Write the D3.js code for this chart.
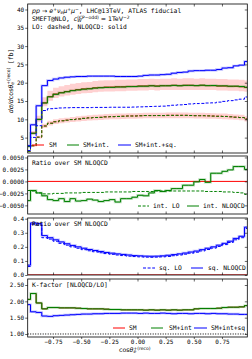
<!DOCTYPE html>
<html>
<head>
<meta charset="utf-8">
<script src="https://cdn.jsdelivr.net/npm/d3@7"></script>
<style>
  body { margin: 0; background: #fff; }
  text { font-family: "DejaVu Sans Mono", monospace; font-size: 6.3px; fill: #000; }
  .m { font-family: "DejaVu Sans", sans-serif; }
</style>
</head>
<body>
<svg id="chart" width="252" height="359"></svg>
<script>
// bin centres of cos(theta_e+) (bin width 0.05)
var binCenters = [-0.975, -0.925, -0.875, -0.825, -0.775, -0.725, -0.675, -0.625, -0.575, -0.525,
  -0.475, -0.425, -0.375, -0.325, -0.275, -0.225, -0.175, -0.125, -0.075, -0.025,
  0.025, 0.075, 0.125, 0.175, 0.225, 0.275, 0.325, 0.375, 0.425, 0.475,
  0.525, 0.575, 0.625, 0.675, 0.725, 0.775, 0.825, 0.875, 0.925, 0.975];

// main panel, dsigma/dcos [fb]
var smLO = [1.26, 2.77, 5.13, 8.19, 8.95, 9.34, 9.61, 9.78, 9.94, 10.11, 10.28, 10.40, 10.51, 10.56, 10.68, 10.74, 10.80, 10.86, 10.92, 10.92,
  10.98, 11.04, 11.03, 11.04, 11.03, 11.10, 11.10, 11.10, 11.10, 11.05, 11.00, 11.00, 10.95, 10.90, 10.85, 10.80, 10.70, 10.60, 10.50, 10.10];
var smNLO = [2.6, 6.2, 10.0, 14.5, 16.2, 16.9, 17.3, 17.6, 17.9, 18.1, 18.3, 18.4, 18.6, 18.7, 18.8, 18.8, 18.9, 18.9, 19.0, 19.0,
  19.1, 19.1, 19.2, 19.1, 19.2, 19.2, 19.3, 19.2, 19.3, 19.3, 19.2, 19.3, 19.2, 19.2, 19.1, 19.1, 19.0, 19.0, 18.9, 18.7];
var smIntLO = [1.26, 2.76, 5.12, 8.17, 8.93, 9.32, 9.59, 9.76, 9.92, 10.09, 10.26, 10.38, 10.49, 10.54, 10.66, 10.72, 10.78, 10.84, 10.90, 10.90,
  10.96, 11.02, 11.01, 11.02, 11.01, 11.08, 11.08, 11.08, 11.08, 11.03, 10.98, 10.98, 10.93, 10.88, 10.83, 10.78, 10.68, 10.58, 10.47, 10.07];
var smIntNLO = [2.59, 6.19, 9.98, 14.46, 16.14, 16.83, 17.24, 17.53, 17.83, 18.03, 18.23, 18.33, 18.53, 18.62, 18.72, 18.73, 18.82, 18.83, 18.93, 18.94,
  19.05, 19.05, 19.15, 19.06, 19.16, 19.16, 19.27, 19.17, 19.28, 19.28, 19.2, 19.31, 19.2, 19.23, 19.13, 19.14, 19.05, 19.06, 18.96, 18.75];
var fullLO = [1.47, 5.06, 8.25, 12.4, 12.9, 13.0, 13.1, 13.15, 13.2, 13.2, 13.2, 13.2, 13.25, 13.25, 13.25, 13.3, 13.3, 13.3, 13.3, 13.35,
  13.4, 13.45, 13.5, 13.55, 13.6, 13.7, 13.85, 13.95, 14.05, 14.2, 14.3, 14.35, 14.45, 14.5, 14.7, 14.9, 15.1, 15.3, 15.5, 16.1];
var fullNLO = [2.8, 8.5, 13.7, 19.2, 20.6, 21.0, 21.3, 21.5, 21.6, 21.7, 21.7, 21.8, 21.8, 21.8, 21.8, 21.8, 21.7, 21.7, 21.7, 21.7,
  21.8, 22.0, 22.1, 22.1, 22.2, 22.3, 22.6, 22.8, 22.9, 23.2, 23.3, 23.3, 23.4, 23.4, 23.6, 24.0, 24.1, 24.6, 24.8, 25.8];

// SM scale bands
var loBandLo = [1.17, 2.58, 4.77, 7.62, 8.32, 8.69, 8.94, 9.1, 9.24, 9.4, 9.56, 9.67, 9.77, 9.82, 9.93, 9.99, 10.04, 10.1, 10.16, 10.16,
  10.21, 10.27, 10.26, 10.27, 10.26, 10.32, 10.32, 10.32, 10.32, 10.28, 10.23, 10.23, 10.18, 10.14, 10.09, 10.04, 9.95, 9.86, 9.77, 9.39];
var loBandHi = [1.35, 2.96, 5.49, 8.76, 9.58, 9.99, 10.28, 10.46, 10.64, 10.82, 11.0, 11.13, 11.25, 11.3, 11.43, 11.49, 11.56, 11.62, 11.68, 11.68,
  11.75, 11.81, 11.8, 11.81, 11.8, 11.88, 11.88, 11.88, 11.88, 11.82, 11.77, 11.77, 11.72, 11.66, 11.61, 11.56, 11.45, 11.34, 11.24, 10.81];
var nloBandLo = [2.4, 5.8, 9.35, 13.6, 15.1, 15.8, 16.2, 16.5, 16.7, 16.9, 17.1, 17.2, 17.4, 17.5, 17.6, 17.6, 17.7, 17.7, 17.8, 17.8,
  17.9, 17.9, 18.0, 17.9, 18.0, 18.0, 18.0, 18.0, 18.0, 18.0, 18.0, 18.0, 18.0, 18.0, 17.9, 17.9, 17.8, 17.8, 17.7, 17.5];
var nloBandHi = [2.9, 6.8, 11.0, 16.0, 17.8, 18.6, 19.0, 19.4, 19.7, 19.9, 20.1, 20.2, 20.5, 20.6, 20.7, 20.7, 20.8, 20.8, 20.9, 20.9,
  21.0, 21.0, 21.1, 21.0, 21.1, 21.1, 21.2, 21.1, 21.2, 21.2, 21.1, 21.2, 21.1, 21.1, 21.0, 21.0, 20.9, 20.9, 20.8, 20.6];

// interference / SM NLOQCD
var intRatioLO = [-0.0019, -0.0020, -0.0024, -0.0026, -0.0026, -0.0025, -0.0025, -0.0024, -0.0024, -0.0024, -0.0023, -0.0023, -0.0023, -0.0023, -0.0022, -0.0022, -0.0022, -0.0022, -0.0022, -0.0021,
  -0.0021, -0.0021, -0.0021, -0.0020, -0.0020, -0.0020, -0.0020, -0.0020, -0.0020, -0.0020, -0.0020, -0.0020, -0.0021, -0.0021, -0.0021, -0.0022, -0.0022, -0.0023, -0.0024, -0.0027];
var intRatioNLO = [-0.0040, -0.0019, -0.0024, -0.0030, -0.0038, -0.0040, -0.0036, -0.0042, -0.0036, -0.0041, -0.0040, -0.0037, -0.0039, -0.0042, -0.0040, -0.0038, -0.0043, -0.0036, -0.0036, -0.0033,
  -0.0029, -0.0030, -0.0024, -0.0019, -0.0021, -0.0019, -0.0015, -0.0015, -0.0008, -0.0008, -0.0001, 0.0004, -0.0002, 0.0017, 0.0017, 0.0021, 0.0024, 0.0031, 0.0031, 0.0025];

// squared / SM NLOQCD
var sqRatioLO = [0.06, 0.36, 0.355, 0.265, 0.255, 0.24, 0.225, 0.212, 0.2, 0.19, 0.18, 0.172, 0.165, 0.158, 0.152, 0.147, 0.142, 0.138, 0.134, 0.131,
  0.129, 0.127, 0.126, 0.127, 0.129, 0.132, 0.137, 0.142, 0.148, 0.155, 0.162, 0.171, 0.181, 0.191, 0.203, 0.216, 0.231, 0.25, 0.265, 0.33];
var sqRatioNLO = [0.07, 0.37, 0.365, 0.28, 0.265, 0.25, 0.235, 0.222, 0.21, 0.2, 0.19, 0.181, 0.174, 0.167, 0.16, 0.155, 0.15, 0.146, 0.142, 0.138,
  0.136, 0.134, 0.133, 0.134, 0.136, 0.14, 0.145, 0.15, 0.156, 0.163, 0.17, 0.18, 0.19, 0.2, 0.212, 0.225, 0.24, 0.26, 0.275, 0.34];

// K-factors NLOQCD/LO
var kSM = [2.06, 2.24, 1.95, 1.77, 1.81, 1.81, 1.80, 1.80, 1.80, 1.79, 1.78, 1.77, 1.77, 1.77, 1.76, 1.75, 1.75, 1.74, 1.74, 1.74,
  1.74, 1.73, 1.74, 1.73, 1.74, 1.73, 1.74, 1.73, 1.74, 1.74, 1.77, 1.78, 1.78, 1.78, 1.79, 1.81, 1.82, 1.82, 1.83, 1.87];
var kSmInt = [2.06, 2.24, 1.95, 1.77, 1.81, 1.81, 1.80, 1.80, 1.80, 1.79, 1.78, 1.77, 1.77, 1.77, 1.76, 1.75, 1.75, 1.74, 1.74, 1.74,
  1.74, 1.73, 1.74, 1.73, 1.74, 1.73, 1.74, 1.73, 1.74, 1.74, 1.77, 1.78, 1.78, 1.78, 1.79, 1.81, 1.82, 1.82, 1.83, 1.87];
var kSmIntSq = [1.90, 1.68, 1.66, 1.55, 1.54, 1.56, 1.57, 1.58, 1.59, 1.60, 1.61, 1.61, 1.62, 1.62, 1.63, 1.63, 1.63, 1.64, 1.64, 1.64,
  1.63, 1.64, 1.63, 1.63, 1.64, 1.63, 1.62, 1.63, 1.63, 1.62, 1.63, 1.63, 1.62, 1.63, 1.62, 1.62, 1.61, 1.61, 1.60, 1.60];

var xTicks = [-0.75, -0.5, -0.25, 0, 0.25, 0.5, 0.75];
var yTicksMain = [5, 10, 15, 20, 25, 30, 35, 40];
var yTicksInt = [-0.005, -0.0025, 0, 0.0025, 0.005];
var yTicksSq = [0, 0.1, 0.2, 0.3, 0.4];
var yTicksK = [1, 1.5, 2, 2.5];

var RED = "#ff0000", GREEN = "#008000", BLUE = "#0000ff";
var DASH = "3,1.6";

var svg = d3.select("#chart");
var xLeft = 27.7, xRight = 247.3;
var x = d3.scaleLinear().domain([-0.975, 0.975]).range([xLeft, xRight]);

var panels = [
  { top: 4, bottom: 153, domain: [0.8, 41.5], ticks: yTicksMain, fmt: d3.format("d") },
  { top: 156, bottom: 214, domain: [-0.0068, 0.0053], ticks: yTicksInt, fmt: d3.format(".4f") },
  { top: 218, bottom: 275, domain: [0, 0.405], ticks: yTicksSq, fmt: d3.format(".1f") },
  { top: 279, bottom: 337, domain: [0.908, 2.684], ticks: yTicksK, fmt: d3.format(".2f") }
];

panels.forEach(function (p, k) {
  p.y = d3.scaleLinear().domain(p.domain).range([p.bottom, p.top]);
  svg.append("clipPath").attr("id", "clip" + k)
    .append("rect").attr("x", xLeft).attr("y", p.top)
    .attr("width", xRight - xLeft).attr("height", p.bottom - p.top);
  p.g = svg.append("g").attr("clip-path", "url(#clip" + k + ")");
});

function stepPath(p, vals) {
  return d3.line()
    .x(function (d, i) { return x(binCenters[i]); })
    .y(function (d) { return p.y(d); })
    .curve(d3.curveStep)(vals);
}

function drawBand(p, lo, hi, color, op) {
  var area = d3.area()
    .x(function (d, i) { return x(binCenters[i]); })
    .y0(function (d, i) { return p.y(lo[i]); })
    .y1(function (d, i) { return p.y(hi[i]); })
    .curve(d3.curveStep);
  p.g.append("path").attr("d", area(lo)).attr("fill", color).attr("fill-opacity", op);
}

function drawStep(p, vals, color, dash, halo) {
  if (halo) {
    p.g.append("path").attr("d", stepPath(p, vals)).attr("fill", "none")
      .attr("stroke", color).attr("stroke-opacity", 0.25).attr("stroke-width", 2.4);
  }
  p.g.append("path").attr("d", stepPath(p, vals)).attr("fill", "none")
    .attr("stroke", color).attr("stroke-width", 1)
    .attr("stroke-dasharray", dash || null);
}

function hline(p, v, color, dash) {
  p.g.append("line").attr("x1", xLeft).attr("x2", xRight)
    .attr("y1", p.y(v)).attr("y2", p.y(v))
    .attr("stroke", color).attr("stroke-width", 1)
    .attr("stroke-dasharray", dash || null);
}

// panel 1
var p1 = panels[0];
drawBand(p1, loBandLo, loBandHi, RED, 0.18);
drawBand(p1, nloBandLo, nloBandHi, RED, 0.18);
drawStep(p1, smLO, RED, DASH);
drawStep(p1, smNLO, RED);
drawStep(p1, smIntLO, GREEN, DASH);
drawStep(p1, smIntNLO, GREEN, null, true);
drawStep(p1, fullLO, BLUE, DASH);
drawStep(p1, fullNLO, BLUE, null, true);

// panel 2
var p2 = panels[1];
hline(p2, 0, RED);
drawStep(p2, intRatioLO, GREEN, DASH);
drawStep(p2, intRatioNLO, GREEN, null, true);

// panel 3
var p3 = panels[2];
drawStep(p3, sqRatioLO, BLUE, DASH);
drawStep(p3, sqRatioNLO, BLUE, null, true);
hline(p3, 0.0005, RED);

// panel 4
var p4 = panels[3];
hline(p4, 1, "#000", "1,1.5");
drawStep(p4, kSM, RED);
drawStep(p4, kSmInt, GREEN, null, true);
drawStep(p4, kSmIntSq, BLUE, null, true);

// axes and frames
panels.forEach(function (p, k) {
  var last = k === panels.length - 1;
  var ax = svg.append("g");
  ax.append("g").attr("transform", "translate(" + xLeft + ",0)")
    .call(d3.axisLeft(p.y).tickValues(p.ticks).tickFormat(p.fmt).tickSize(2.5).tickPadding(1));
  ax.append("g").attr("transform", "translate(" + xRight + ",0)")
    .call(d3.axisRight(p.y).tickValues(p.ticks).tickFormat("").tickSize(-2.5));
  ax.append("g").attr("transform", "translate(0," + p.top + ")")
    .call(d3.axisTop(x).tickValues(xTicks).tickFormat("").tickSize(-2.5));
  ax.append("g").attr("transform", "translate(0," + p.bottom + ")")
    .call(d3.axisBottom(x).tickValues(xTicks)
      .tickFormat(last ? d3.format(".2f") : "")
      .tickSize(last ? 2 : -2.5).tickPadding(0.5));
  ax.selectAll(".domain").remove();
  ax.selectAll("line").attr("stroke", "#000").attr("stroke-width", 0.6);
  ax.selectAll("text").attr("font-family", null).attr("font-size", null).style("font-size", "6px");
  ax.append("rect").attr("x", xLeft).attr("y", p.top)
    .attr("width", xRight - xLeft).attr("height", p.bottom - p.top)
    .attr("fill", "none").attr("stroke", "#000").attr("stroke-width", 0.8);
});

// text helpers
function richText(g, x0, y0, parts) {
  var t = g.append("text").attr("x", x0).attr("y", y0);
  var off = 0, prev = null;
  parts.forEach(function (pt) {
    var s = (pt[1] || "").split(" ");
    var target = s.indexOf("sup") >= 0 ? -2.3 : s.indexOf("sub") >= 0 ? 1.3 : 0;
    var ts = t.append("tspan").attr("dy", target - off).text(pt[0]);
    if (target !== 0) ts.style("font-size", "4.5px");
    if (s.indexOf("m") >= 0) ts.attr("class", "m");
    if (s.indexOf("i") >= 0) ts.style("font-style", "italic");
    if (s.indexOf("stack") >= 0 && prev) ts.attr("dx", -prev.node().getComputedTextLength());
    off = target;
    prev = ts;
  });
  return t;
}

function legendItem(y, x1, x2, tx, color, dash, label) {
  svg.append("line").attr("x1", x1).attr("x2", x2).attr("y1", y).attr("y2", y)
    .attr("stroke", color).attr("stroke-width", 1).attr("stroke-dasharray", dash || null);
  svg.append("text").attr("x", tx).attr("y", y + 2.2).text(label);
}

// panel 1 annotations
richText(svg, 32, 13, [["pp", "m i"], [" \u2192 ", "m"], ["e", "m i"], ["+", "m sup"], ["\u03bd", "m i"], ["e", "m i sub"],
  ["\u03bc", "m i"], ["+", "m sup"], ["\u03bc", "m i"], ["\u2212", "m sup"], [", LHC@13TeV, ATLAS fiducial", ""]]);
richText(svg, 32, 21, [["SMEFT@NLO, ", ""], ["c", "m i"], ["W\u0303", "m i sub"], ["(CP\u2212odd)", "m sup stack"],
  [" = 1TeV", "m"], ["\u22122", "m sup"]]);
svg.append("text").attr("x", 32).attr("y", 28.5).text("LO: dashed, NLOQCD: solid");

legendItem(145, 32, 44, 49, RED, null, "SM");
legendItem(145, 67, 79, 83, GREEN, null, "SM+int.");
legendItem(145, 118, 131, 135, BLUE, null, "SM+int.+sq.");

svg.append("text").attr("x", 32).attr("y", 165).text("Ratio over SM NLOQCD");
legendItem(206, 138, 149, 153, GREEN, DASH, "int. LO");
legendItem(206, 187, 199, 203, GREEN, null, "int. NLOQCD");

svg.append("text").attr("x", 32).attr("y", 226).text("Ratio over SM NLOQCD");
legendItem(268, 143, 155, 159, BLUE, DASH, "sq. LO");
legendItem(268, 191, 203, 208, BLUE, null, "sq. NLOQCD");

svg.append("text").attr("x", 32).attr("y", 287).text("K-factor [NLOQCD/LO]");
legendItem(328, 113, 125, 129, RED, null, "SM");
legendItem(328, 151, 163, 169, GREEN, null, "SM+int");
legendItem(328, 194, 207, 211, BLUE, null, "SM+int+sq");

// axis labels
richText(svg, 0, 0, [["d\u03c3/d", "m i"], ["cos", "m"], ["\u03b8", "m i"], ["e", "m i sub"], ["+(reco)", "m sup stack"], [" [fb]", ""]])
  .attr("text-anchor", "middle").attr("transform", "translate(12.5,81) rotate(-90)");
richText(svg, 119, 352, [["cos", "m"], ["\u03b8", "m i"], ["e", "m i sub"], ["+(reco)", "m sup stack"]]);
</script>
</body>
</html>
